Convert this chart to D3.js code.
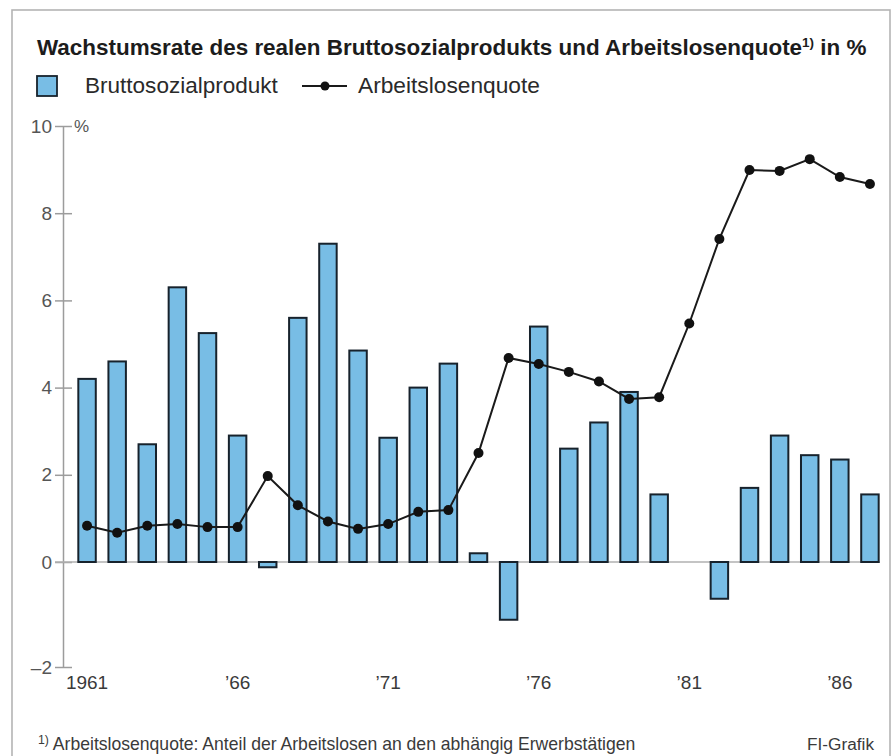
<!DOCTYPE html>
<html>
<head>
<meta charset="utf-8">
<script src="https://cdn.jsdelivr.net/npm/d3@7"></script>
<style>
  body { margin: 0; background: #fff; }
  text { font-family: "Liberation Sans", Arial, sans-serif; }
</style>
</head>
<body>
<script>
  // data
  var years = [1961, 1962, 1963, 1964, 1965, 1966, 1967, 1968, 1969, 1970,
               1971, 1972, 1973, 1974, 1975, 1976, 1977, 1978, 1979, 1980,
               1981, 1982, 1983, 1984, 1985, 1986, 1987];
  var gnp = [4.2, 4.6, 2.7, 6.3, 5.25, 2.9, -0.1, 5.6, 7.3, 4.85,
             2.85, 4.0, 4.55, 0.2, -1.1, 5.4, 2.6, 3.2, 3.9, 1.55,
             0.0, -0.7, 1.7, 2.9, 2.45, 2.35, 1.55];
  var unemployment = [0.83, 0.67, 0.83, 0.87, 0.8, 0.8, 1.97, 1.3, 0.93, 0.76,
                      0.87, 1.15, 1.19, 2.5, 4.68, 4.54, 4.36, 4.14, 3.74, 3.78,
                      5.47, 7.41, 8.99, 8.97, 9.24, 8.83, 8.67];
  var yTicks = [-2, 0, 2, 4, 6, 8, 10];
  var xTickYears = [1961, 1966, 1971, 1976, 1981, 1986];
  var xTickLabels = ["1961", "\u201966", "\u201971", "\u201976", "\u201981", "\u201986"];

  var width = 894, height = 756;
  var axisX = 63;
  var barFill = "#78bde5", barStroke = "#17222c";

  var svg = d3.select("body").append("svg")
    .attr("width", width)
    .attr("height", height);

  // frame
  svg.append("rect")
    .attr("x", 12).attr("y", 10)
    .attr("width", 878).attr("height", 770)
    .attr("fill", "none")
    .attr("stroke", "#b4b4b4")
    .attr("stroke-width", 1.6);

  // scale the font so the text spans a given width
  function fit(sel, w) {
    var cur = sel.node().getComputedTextLength();
    var fs = parseFloat(sel.attr("font-size"));
    sel.attr("font-size", fs * w / cur);
  }

  var title = svg.append("text")
    .attr("x", 37).attr("y", 55)
    .attr("font-size", 19)
    .attr("font-weight", "bold")
    .attr("fill", "#1c1c1c");
  title.append("tspan").text("Wachstumsrate des realen Bruttosozialprodukts und Arbeitslosenquote");
  title.append("tspan").attr("font-size", "0.6em").attr("dy", -8).text("1)");
  title.append("tspan").attr("dy", 8).text(" in %");
  fit(title, 830);

  // scales (the -2 tick sits at the axis foot, so the negative part is stretched)
  var x = d3.scaleBand()
    .domain(years)
    .range([72, 885])
    .paddingInner(0.42)
    .paddingOuter(0.21);

  var y = d3.scaleLinear()
    .domain([-2, 0, 10])
    .range([667, 562, 126]);

  // legend
  svg.append("rect")
    .attr("x", 37).attr("y", 76)
    .attr("width", 20).attr("height", 20)
    .attr("fill", barFill)
    .attr("stroke", barStroke)
    .attr("stroke-width", 1.8);
  var l1 = svg.append("text")
    .attr("x", 85).attr("y", 93)
    .attr("font-size", 20)
    .attr("fill", "#2a2a2a")
    .text("Bruttosozialprodukt");
  fit(l1, 193);
  svg.append("line")
    .attr("x1", 302).attr("x2", 347)
    .attr("y1", 86).attr("y2", 86)
    .attr("stroke", "#1a1a1a")
    .attr("stroke-width", 2);
  svg.append("circle")
    .attr("cx", 325).attr("cy", 86).attr("r", 4.5)
    .attr("fill", "#111");
  var l2 = svg.append("text")
    .attr("x", 358).attr("y", 93)
    .attr("font-size", 20)
    .attr("fill", "#2a2a2a")
    .text("Arbeitslosenquote");
  fit(l2, 182);

  // y axis
  var yAxis = d3.axisLeft(y)
    .tickValues(yTicks)
    .tickSize(8)
    .tickSizeOuter(0)
    .tickPadding(3)
    .tickFormat(function (d) { return d < 0 ? "\u2013" + Math.abs(d) : d; });

  var gy = svg.append("g")
    .attr("transform", "translate(" + axisX + ",0)")
    .call(yAxis);
  gy.select(".domain").attr("stroke", "#9c9c9c").attr("stroke-width", 1.5);
  gy.selectAll(".tick line")
    .attr("x1", 9)
    .attr("stroke", "#9c9c9c")
    .attr("stroke-width", 1.5);
  gy.selectAll(".tick text")
    .attr("font-family", "\"Liberation Sans\", Arial, sans-serif")
    .attr("font-size", 19)
    .attr("fill", "#555");

  svg.append("text")
    .attr("x", 74).attr("y", y(10))
    .attr("dy", "0.35em")
    .attr("font-size", 17)
    .attr("fill", "#555")
    .text("%");

  // zero line
  svg.append("line")
    .attr("x1", axisX - 8).attr("x2", 880)
    .attr("y1", y(0)).attr("y2", y(0))
    .attr("stroke", "#b0b0b0")
    .attr("stroke-width", 1.5);

  // bars
  var barData = years.map(function (yr, i) { return { year: yr, v: gnp[i] }; })
    .filter(function (d) { return d.v !== 0; });

  svg.selectAll("rect.bar")
    .data(barData)
    .enter()
    .append("rect")
    .attr("class", "bar")
    .attr("x", function (d) { return x(d.year); })
    .attr("y", function (d) { return Math.min(y(d.v), y(0)); })
    .attr("width", x.bandwidth())
    .attr("height", function (d) { return Math.abs(y(d.v) - y(0)); })
    .attr("fill", barFill)
    .attr("stroke", barStroke)
    .attr("stroke-width", 2);

  // unemployment line
  var lineData = years.map(function (yr, i) { return { year: yr, v: unemployment[i] }; });
  var line = d3.line()
    .x(function (d) { return x(d.year) + x.bandwidth() / 2; })
    .y(function (d) { return y(d.v); });

  svg.append("path")
    .datum(lineData)
    .attr("d", line)
    .attr("fill", "none")
    .attr("stroke", "#1a1a1a")
    .attr("stroke-width", 2);

  svg.selectAll("circle.pt")
    .data(lineData)
    .enter()
    .append("circle")
    .attr("class", "pt")
    .attr("cx", function (d) { return x(d.year) + x.bandwidth() / 2; })
    .attr("cy", function (d) { return y(d.v); })
    .attr("r", 5)
    .attr("fill", "#111");

  // x labels
  svg.selectAll("text.xl")
    .data(xTickYears)
    .enter()
    .append("text")
    .attr("class", "xl")
    .attr("x", function (d) { return x(d) + x.bandwidth() / 2; })
    .attr("y", 689)
    .attr("text-anchor", "middle")
    .attr("font-size", 19)
    .attr("fill", "#3a3a3a")
    .text(function (d, i) { return xTickLabels[i]; });

  // footnote and source
  var foot = svg.append("text")
    .attr("x", 38).attr("y", 750)
    .attr("font-size", 15)
    .attr("fill", "#3a3a3a");
  foot.append("tspan").attr("font-size", "0.7em").attr("dy", -6).text("1)");
  foot.append("tspan").attr("dy", 6).text(" Arbeitslosenquote: Anteil der Arbeitslosen an den abhängig Erwerbstätigen");
  fit(foot, 598);

  var src = svg.append("text")
    .attr("x", 874).attr("y", 750)
    .attr("text-anchor", "end")
    .attr("font-size", 15)
    .attr("fill", "#3a3a3a")
    .text("FI-Grafik");
  fit(src, 67);
</script>
</body>
</html>
